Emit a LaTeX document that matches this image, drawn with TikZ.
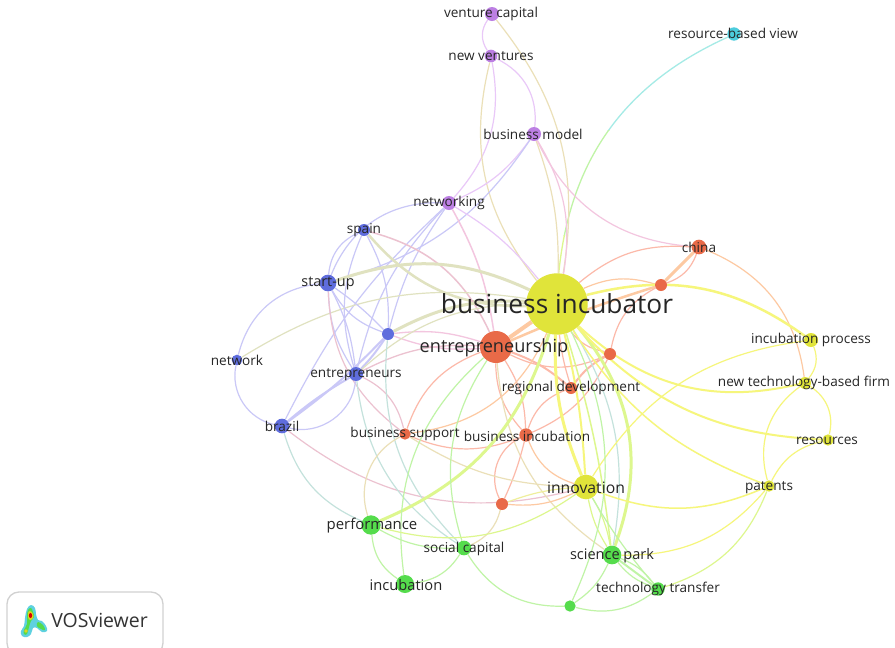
\documentclass[tikz,border=0pt]{standalone}
\usepackage{fontspec}
\setmainfont{Open Sans}
\pgfdeclarelayer{edgelayer}
\pgfsetlayers{edgelayer,main}
\definecolor{yl}{HTML}{F6F67C}
\definecolor{yd}{HTML}{EFEF9C}
\definecolor{rd}{HTML}{FCB9A9}
\definecolor{og}{HTML}{FDC9A2}
\definecolor{gr}{HTML}{C0F4A6}
\definecolor{yg}{HTML}{DDF78E}
\definecolor{bl}{HTML}{CAC8F7}
\definecolor{pu}{HTML}{E9C8F8}
\definecolor{pk}{HTML}{F3C6DF}
\definecolor{pr}{HTML}{ECC2D0}
\definecolor{gy}{HTML}{E0E2C0}
\definecolor{tn}{HTML}{EBE0B8}
\definecolor{bg}{HTML}{C4E2DC}
\definecolor{cy}{HTML}{A5EBE6}
\definecolor{nY}{HTML}{E0E43A}
\definecolor{nR}{HTML}{E96A48}
\definecolor{nB}{HTML}{5F6DDD}
\definecolor{nG}{HTML}{55DC4C}
\definecolor{nP}{HTML}{BC7FE3}
\definecolor{nC}{HTML}{4CCCDD}
\tikzset{
  kw/.style={circle,inner sep=0pt,draw=none,minimum size=#1},
  lab/.style={text=black!85,inner sep=0pt,yshift=-1pt,font=\fontsize{10.2}{12}\selectfont},
  labm/.style={text=black!85,inner sep=0pt,yshift=-.5pt,font=\fontsize{#1}{14}\selectfont},
}
\newcommand{\eg}[5][1]{\draw[#2,line width=#1*0.75pt] (#3) to[bend left=#5] (#4);}
\begin{document}
\begin{tikzpicture}[x=0.75pt,y=-0.75pt]
\path[use as bounding box] (0,0) rectangle (895,647);
% nodes
\node[kw=10.5pt,fill=nP] (vc) at (492,14) {};
\node[kw=9.5pt,fill=nP] (nv) at (491,56) {};
\node[kw=10.5pt,fill=nP] (bm) at (534,134) {};
\node[kw=10.5pt,fill=nP] (net) at (449,203) {};
\node[kw=10pt,fill=nC] (rbv) at (734,34) {};
\node[kw=11pt,fill=nR] (china) at (699,247) {};
\node[kw=9pt,fill=nR] (ra) at (661,285) {};
\node[kw=46pt,fill=nY] (bi) at (557,304) {};
\node[kw=24pt,fill=nR] (en) at (496,347) {};
\node[kw=9pt,fill=nR] (rb) at (610,354) {};
\node[kw=9pt,fill=nR] (reg) at (571,388) {};
\node[kw=10.5pt,fill=nY] (ip) at (811,340) {};
\node[kw=9pt,fill=nY] (ntb) at (805,383) {};
\node[kw=8.5pt,fill=nY] (res) at (828,440) {};
\node[kw=8.5pt,fill=nY] (pat) at (769,486) {};
\node[kw=9pt,fill=nB] (spain) at (364,230) {};
\node[kw=12.5pt,fill=nB] (su) at (328,283) {};
\node[kw=9pt,fill=nB] (bu) at (388,334) {};
\node[kw=8pt,fill=nB] (nw) at (237,360) {};
\node[kw=10.5pt,fill=nB] (ents) at (356,374) {};
\node[kw=11pt,fill=nB] (br) at (282,426) {};
\node[kw=8.5pt,fill=nR] (bs) at (405,434) {};
\node[kw=10pt,fill=nR] (bc) at (526,435) {};
\node[kw=18.5pt,fill=nY] (inn) at (586,487) {};
\node[kw=9pt,fill=nR] (rc) at (502,504) {};
\node[kw=14.5pt,fill=nG] (perf) at (371,525) {};
\node[kw=11pt,fill=nG] (sc) at (464,548) {};
\node[kw=14pt,fill=nG] (sp) at (612,555) {};
\node[kw=13.5pt,fill=nG] (incu) at (405,584) {};
\node[kw=8.5pt,fill=nG] (gn) at (570,606) {};
\node[kw=10pt,fill=nG] (tt) at (658,589) {};
% edges
\begin{pgfonlayer}{edgelayer}
\fill[white] (0,0) rectangle (895,647);
% cyan gradient edge
\begin{scope}\clip (600,0) rectangle (895,130);\eg[1.3]{cy}{rbv}{bi}{-30}\end{scope}
\begin{scope}\clip (500,130) rectangle (895,235);\eg[1.3]{gr}{rbv}{bi}{-30}\end{scope}
\begin{scope}\clip (500,235) rectangle (895,340);\eg[1.3]{yg}{rbv}{bi}{-30}\end{scope}
% purple
\eg[1.2]{pu}{vc}{nv}{-35}
\eg[1.2]{tn}{vc}{bi}{24}
\eg[1.2]{pu}{nv}{bm}{35}
\eg[1.2]{pu}{nv}{net}{26}
\eg[1.2]{tn}{nv}{bi}{-26}
\eg[1.2]{pu}{bm}{net}{15}
\eg[1.2]{bl}{bm}{su}{20}
\eg[1.2]{pk}{bm}{bi}{20}
\eg[1.2]{tn}{bm}{bi}{10}
\eg[1.2]{pk}{bm}{china}{-30}
\eg[1.2]{bl}{net}{su}{-35}
\eg[1.2]{bl}{net}{ents}{-15}
\eg[1.2]{bl}{net}{br}{-10}
\eg[1.2]{bl}{net}{bu}{-10}
\eg[1.2]{pu}{net}{bi}{10}
\eg[1.5]{pk}{net}{en}{10}
% blue
\eg[1.2]{bl}{spain}{su}{-30}
\eg[1.2]{bl}{spain}{ents}{-20}
\eg[1.2]{bl}{spain}{bu}{15}
\eg[2.5]{gy}{spain}{bi}{-25}
\eg[1.5]{pr}{spain}{en}{25}
\eg[3]{gy}{su}{bi}{22}
\eg[1.2]{bl}{su}{nw}{-35}
\eg[1.2]{gy}{nw}{bi}{20}
\eg[1.2]{bl}{nw}{br}{-45}
\eg[1.2]{bl}{su}{ents}{-15}
\eg[1.2]{bl}{su}{ents}{10}
\eg[1.2]{bl}{su}{bu}{-20}
\eg[1.2]{bl}{su}{bu}{5}
\eg[1.2]{pr}{su}{bs}{-25}
\eg[3]{gy}{bu}{bi}{15}
\eg[1.3]{pk}{bu}{en}{12}
\eg[1.3]{pk}{bu}{en}{-12}
\eg[2]{bl}{bu}{ents}{5}
\eg[2]{bl}{br}{bu}{-5}
\eg[1.2]{gy}{ents}{bi}{20}
\eg[1.3]{pr}{ents}{en}{15}
\eg[1.2]{bl}{br}{ents}{-50}
\eg[2]{bl}{br}{ents}{5}
\eg[1.2]{pr}{br}{inn}{-26}
\eg[1.2]{bg}{br}{perf}{-25}
\eg[1.2]{pr}{ents}{bs}{25}
\eg[1.2]{bg}{ents}{sc}{-25}
\eg[1.2]{bg}{bu}{sc}{-25}
% red
\eg[4]{og}{en}{bi}{0}
\eg[3]{og}{china}{ra}{0}
\eg[1.2]{rd}{china}{ra}{25}
\eg[1.2]{rd}{china}{bi}{-22}
\eg[1.2]{og}{ra}{bi}{-20}
\eg[2.5]{og}{ra}{en}{-3}
\eg[1.2]{rd}{ra}{rb}{-25}
\eg[1.2]{og}{china}{ntb}{30}
\eg[1.2]{rd}{rb}{bi}{20}
\eg[1.2]{rd}{rb}{en}{25}
\eg[2]{rd}{rb}{reg}{-12}
\eg[1.2]{rd}{rb}{bc}{20}
\eg[2]{rd}{en}{reg}{10}
\eg[1.2]{rd}{reg}{bc}{-25}
\eg[1.2]{rd}{reg}{bi}{5}
\eg[1.2]{rd}{en}{bc}{-20}
\eg[1.2]{rd}{en}{bc}{15}
\eg[1.2]{rd}{en}{bs}{-25}
\eg[1.2]{tn}{en}{sp}{-25}
\eg[1.2]{og}{bi}{bs}{30}
\eg[1.2]{rd}{bs}{bc}{-22}
\eg[1.2]{rd}{bc}{rc}{-45}
\eg[1.2]{rd}{bc}{rc}{5}
\eg[1.2]{og}{bc}{inn}{-25}
\eg[1.2]{tn}{bs}{perf}{-40}
\eg[1.2]{yd}{rc}{inn}{8}
\eg[1.2]{og}{rc}{inn}{-15}
\eg[1.2]{tn}{rc}{sc}{25}
\eg[1.2]{tn}{bs}{inn}{-15}
% yellow / green
\eg[3]{yl}{bi}{inn}{-12}
\eg[2]{yl}{bi}{inn}{5}
\eg[3]{yg}{bi}{sp}{30}
\eg[1.2]{bg}{bi}{sp}{20}
\eg[1.5]{yg}{bi}{sp}{5}
\eg[3]{yg}{bi}{perf}{25}
\eg[1.2]{gr}{en}{sc}{-25}
\eg[1.2]{gr}{en}{incu}{-28}
\eg[2.5]{yl}{bi}{ip}{25}
\eg[2]{yl}{bi}{ntb}{-28}
\eg[2]{yl}{bi}{res}{-22}
\eg[1.5]{yl}{bi}{pat}{-18}
\eg[1.2]{yl}{inn}{ip}{25}
\eg[1.5]{yl}{inn}{pat}{-22}
\eg[1.2]{yg}{inn}{perf}{25}
\eg[1.2]{yg}{inn}{sp}{-10}
\eg[1.2]{yg}{inn}{sp}{10}
\eg[1.2]{gr}{inn}{tt}{-5}
\eg[1.2]{gr}{gn}{bi}{-25}
\eg[1.2]{yl}{ip}{ntb}{30}
\eg[1.2]{yl}{ntb}{res}{35}
\eg[1.2]{yl}{ntb}{pat}{-35}
\eg[1.2]{yl}{res}{pat}{-25}
\eg[1.2]{yg}{pat}{tt}{25}
\eg[1.2]{yl}{pat}{sp}{25}
\eg[1.2]{gr}{perf}{sc}{-15}
\eg[1.2]{gr}{perf}{incu}{-25}
\eg[1.2]{gr}{incu}{sc}{-25}
\eg[1.2]{gr}{sc}{gn}{-30}
\eg[1.2]{gr}{gn}{sp}{-15}
\eg[1.2]{gr}{gn}{tt}{-25}
\eg[1.2]{gr}{sp}{tt}{15}
\eg[1.2]{gr}{sp}{tt}{-15}
\eg[2]{gr}{sp}{tt}{0}
\end{pgfonlayer}
% labels
\node[lab] (lvc) at (491,13) {venture capital};
\node[lab] (lnv) at (491,55) {new ventures};
\node[lab] (lbm) at (533,133) {business model};
\node[lab] (lnet) at (449,202) {networking};
\node[lab] (lrbv) at (733,32.5) {resource-based view};
\node[lab] (lchina) at (699,246) {china};
\node[labm=19.7] (lbi) at (557,303) {business incubator};
\node[labm=13.6] (len) at (494,347) {entrepreneurship};
\node[lab] (lreg) at (571,387) {regional development};
\node[lab] (lip) at (811,339) {incubation process};
\node[lab] (lntb) at (804,382) {new technology-based firm};
\node[lab] (lres) at (827,440) {resources};
\node[lab] (lpat) at (769,486) {patents};
\node[lab] (lspain) at (364,229) {spain};
\node[labm=10.8] (lsu) at (328,283) {start-up};
\node[lab] (lnw) at (237,359) {network};
\node[lab] (lents) at (356,373) {entrepreneurs};
\node[lab] (lbr) at (282,425) {brazil};
\node[lab] (lbs) at (405,433) {business support};
\node[lab] (lbc) at (527,435) {business incubation};
\node[labm=11.8] (linn) at (586,487) {innovation};
\node[labm=11.2] (lperf) at (372,525) {performance};
\node[lab] (lsc) at (464,548) {social capital};
\node[labm=10.9] (lsp) at (612,555) {science park};
\node[labm=11] (lincu) at (406,584) {incubation};
\node[lab] (ltt) at (658,588) {technology transfer};
% logo
\begin{scope}
\clip (0,580) rectangle (895,647);
\draw[draw=black!18,line width=1pt,rounded corners=9pt,fill=white] (7,592) rectangle (163,655);
\fill[nC!90!white] plot[smooth cycle,tension=.7] coordinates {(31,605)(35,608)(36,614)(38,620)(42,621)(46,626)(47,631)(42,632)(37,628)(33,628)(31,634)(27,637)(22,636)(21,631)(24,626)(25,618)(27,609)};
\fill[nG] plot[smooth cycle,tension=.7] coordinates {(31,608)(33,612)(34,617)(31,621)(29,627)(27,634)(24,634)(24,630)(27,624)(27,616)(28,610)};
\fill[nG] plot[smooth cycle,tension=.7] coordinates {(38,622)(43,625)(45,630)(41,629)(37,626)};
\fill[yellow!85!black] plot[smooth cycle,tension=.7] coordinates {(30,611)(33,614)(33,618)(30,620)(28,617)(28,613)};
\fill[yellow!85!black] (26,631) circle (1.8);
\fill[red!85!black] (30.5,615.5) ellipse (1.6 and 2.6);
\node[inner sep=0pt,text=black!80,font=\fontsize{14.6}{17}\selectfont] (logo) at (99.5,620) {VOSviewer};
\end{scope}
\end{tikzpicture}
\end{document}
